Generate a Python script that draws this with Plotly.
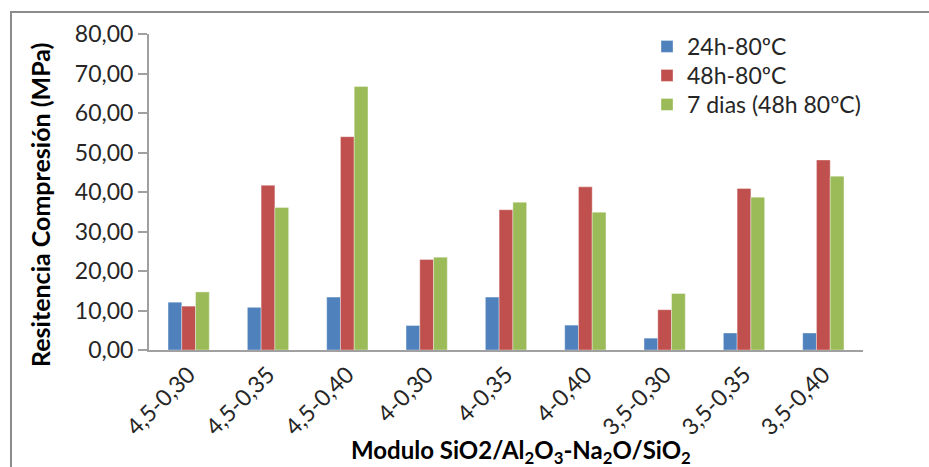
import plotly.graph_objects as go

categories = ["4,5-0,30", "4,5-0,35", "4,5-0,40", "4-0,30", "4-0,35", "4-0,40",
              "3,5-0,30", "3,5-0,35", "3,5-0,40"]
series_names = ["24h-80ºC", "48h-80ºC", "7 dias (48h 80ºC)"]
v_24h = [12.1, 10.8, 13.4, 6.2, 13.4, 6.3, 3.0, 4.3, 4.3]
v_48h = [11.1, 41.7, 54.0, 22.9, 35.5, 41.3, 10.2, 40.9, 48.1]
v_7d = [14.7, 36.1, 66.7, 23.5, 37.4, 34.9, 14.3, 38.7, 44.0]
colors = ["#4F81BD", "#C0504D", "#9BBB59"]

FONT = "Lato, 'Liberation Sans', sans-serif"

W, H = 929, 467
L, T = 149, 34
pw, ph = 714, 316
R, B = W - L - pw, H - T - ph
bottom = T + ph

legend_ids = ["legend", "legend2", "legend3"]
legend_row_tops = [25, 54, 83]

fig = go.Figure()
for name, vals, col, lg in zip(series_names, [v_24h, v_48h, v_7d], colors, legend_ids):
    fig.add_trace(go.Bar(x=categories, y=vals, name=name, legend=lg,
                         marker=dict(color=col, line=dict(color="rgba(255,255,255,0.6)", width=0.6))))

legend_common = dict(xanchor="left", yanchor="top", bgcolor="rgba(0,0,0,0)",
                     font=dict(size=23, color="#262626"))
legends = {}
for lg, top in zip(legend_ids, legend_row_tops):
    legends[lg] = dict(x=(647 - L) / pw, y=(bottom - top) / ph, **legend_common)

fig.update_layout(
    width=W, height=H,
    margin=dict(l=L, r=R, t=T, b=B, autoexpand=False),
    paper_bgcolor="white", plot_bgcolor="white",
    separators=",.",
    barmode="group", bargap=0.48, bargroupgap=0,
    font=dict(family=FONT, size=23, color="#262626"),
    showlegend=True,
    **legends,
    xaxis=dict(showline=True, linecolor="#A0A0A0", linewidth=2, ticks="",
               tickangle=-45, tickfont=dict(size=23), showgrid=False,
               automargin=False),
    yaxis=dict(range=[0, 80], dtick=10, tickformat=".2f", showline=True,
               linecolor="#A0A0A0", linewidth=2, ticks="outside", ticklen=9,
               tickcolor="#A0A0A0", tickwidth=1.5, showgrid=False, zeroline=False,
               tickfont=dict(size=23), automargin=False),
    annotations=[
        dict(text="<b>Modulo SiO2/Al<sub>2</sub>O<sub>3</sub>-Na<sub>2</sub>O/SiO<sub>2</sub></b>",
             xref="paper", yref="paper", x=(520.5 - L) / pw, y=-(451 - bottom) / ph,
             xanchor="center", yanchor="middle", showarrow=False,
             font=dict(size=24, color="#000000")),
        dict(text="<b>Resitencia Compresión (MPa)</b>",
             xref="paper", yref="paper", x=(40 - L) / pw, y=(bottom - 205) / ph,
             xanchor="center", yanchor="middle", textangle=-90, showarrow=False,
             font=dict(size=25, color="#000000")),
    ],
    shapes=[dict(type="rect", xref="paper", yref="paper",
                 x0=(11 - L) / pw, x1=(W + 30 - L) / pw,
                 y0=-(H + 30 - bottom) / ph, y1=(bottom - 12) / ph,
                 line=dict(color="#8C8C8C", width=2), fillcolor="rgba(0,0,0,0)", layer="below")],
)

fig.write_html("out.html", config={"displayModeBar": False},
               post_script="document.body.style.margin='0';document.body.style.overflow='hidden';")
